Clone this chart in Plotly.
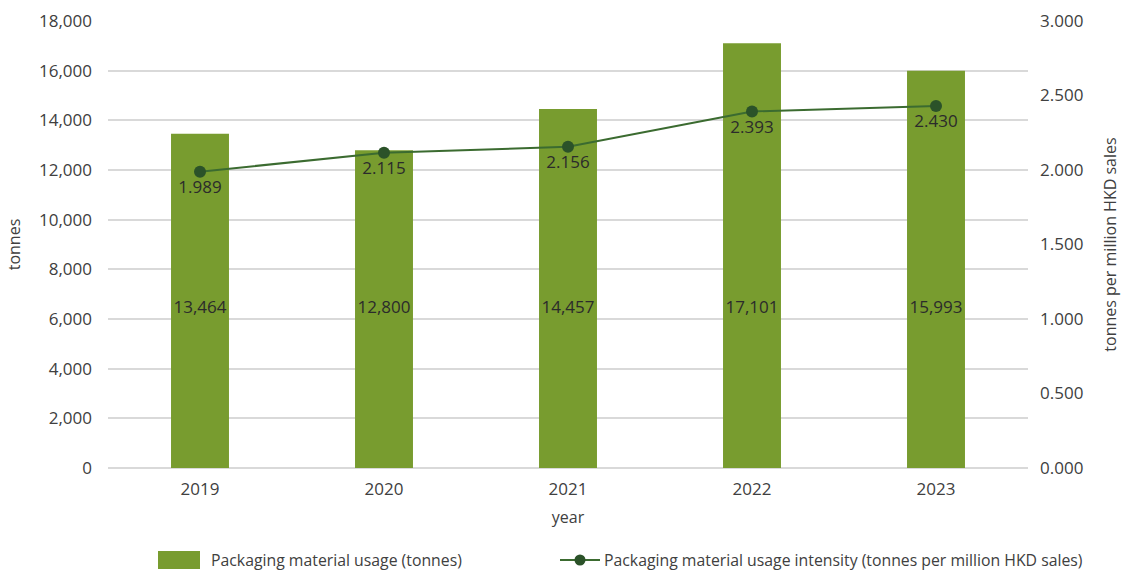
import plotly.graph_objects as go

years = ["2019", "2020", "2021", "2022", "2023"]
usage_tonnes = [13464, 12800, 14457, 17101, 15993]
intensity = [1.989, 2.115, 2.156, 2.393, 2.430]
bar_label_level = 6400

left_ticks = [0, 2000, 4000, 6000, 8000, 10000, 12000, 14000, 16000, 18000]
right_ticks = [0, 0.5, 1.0, 1.5, 2.0, 2.5, 3.0]

bar_name = "Packaging material usage (tonnes)"
line_name = "Packaging material usage intensity (tonnes per million HKD sales)"

FONT = "Open Sans, Segoe UI, sans-serif"
TXT = "#404040"
BAR_C = "#789c2f"
LINE_C = "#3b6b30"
MARK_C = "#2b5229"

# plot area geometry in px (used to place the custom legend in paper coords)
L, R, T, B = 108, 95, 21, 107
W, H = 1123, 575
PW, PH = W - L - R, H - T - B


def px_x(px):
    return (px - L) / PW


def px_y(py):
    return (H - B - py) / PH


fig = go.Figure()
fig.add_trace(go.Bar(
    x=years, y=usage_tonnes, name=bar_name,
    marker=dict(color=BAR_C, line=dict(width=0)), width=0.315,
))
fig.add_trace(go.Scatter(
    x=years, y=[bar_label_level] * len(years), mode="text",
    text=[f"{v:,}" for v in usage_tonnes], textposition="middle center",
    textfont=dict(family=FONT, size=17, color="#2b2b2b"),
    hoverinfo="skip",
))
fig.add_trace(go.Scatter(
    x=years, y=intensity, yaxis="y2", mode="lines+markers+text",
    name=line_name,
    line=dict(color=LINE_C, width=2),
    marker=dict(color=MARK_C, size=12),
    text=[f"{v:.3f}" for v in intensity], textposition="bottom center",
    textfont=dict(family=FONT, size=17, color="#2b2b2b"),
))

# custom legend
ly = 560
fig.add_shape(type="rect", xref="paper", yref="paper",
              x0=px_x(158), x1=px_x(200), y0=px_y(569), y1=px_y(551),
              fillcolor=BAR_C, line=dict(width=0))
fig.add_annotation(xref="paper", yref="paper", x=px_x(209), y=px_y(ly),
                   text=bar_name, showarrow=False, xanchor="left", yanchor="middle",
                   font=dict(size=15.8, color=TXT))
fig.add_shape(type="line", xref="paper", yref="paper",
              x0=px_x(560), x1=px_x(600), y0=px_y(ly), y1=px_y(ly),
              line=dict(color=LINE_C, width=2))
fig.add_shape(type="circle", xref="paper", yref="paper",
              x0=px_x(574.5), x1=px_x(585.5), y0=px_y(565.5), y1=px_y(554.5),
              fillcolor=MARK_C, line=dict(width=0))
fig.add_annotation(xref="paper", yref="paper", x=px_x(602), y=px_y(ly),
                   text=line_name, showarrow=False, xanchor="left", yanchor="middle",
                   font=dict(size=15.8, color=TXT))

fig.update_layout(
    width=W, height=H,
    margin=dict(l=L, r=R, t=T, b=B, autoexpand=False),
    paper_bgcolor="white", plot_bgcolor="white",
    font=dict(family=FONT, size=14, color=TXT),
    showlegend=False,
    xaxis=dict(
        type="category", showgrid=False, showline=False, ticks="",
        tickfont=dict(size=17, color=TXT), ticklabelstandoff=9,
        title=dict(text="year", font=dict(size=16, color=TXT), standoff=12),
        automargin=False,
    ),
    yaxis=dict(
        range=[0, 18000], tickvals=left_ticks,
        ticktext=[f"{v:,}" for v in left_ticks],
        showgrid=True, gridcolor="#d9d9d9", gridwidth=1.5,
        zeroline=True, zerolinecolor="#d9d9d9", zerolinewidth=1.5,
        showline=False, ticks="", ticklabelstandoff=15,
        tickfont=dict(size=17, color=TXT),
        title=dict(text="tonnes", font=dict(size=16, color=TXT), standoff=14),
        automargin=False,
    ),
    yaxis2=dict(
        range=[0, 3.0], tickvals=right_ticks,
        ticktext=[f"{v:.3f}" for v in right_ticks],
        overlaying="y", side="right", showgrid=False, zeroline=False,
        showline=False, ticks="", ticklabelstandoff=11,
        tickfont=dict(size=17, color=TXT),
        title=dict(text="tonnes per million HKD sales", font=dict(size=16, color=TXT), standoff=22),
        automargin=False,
    ),
)

fig.write_html("out.html")
